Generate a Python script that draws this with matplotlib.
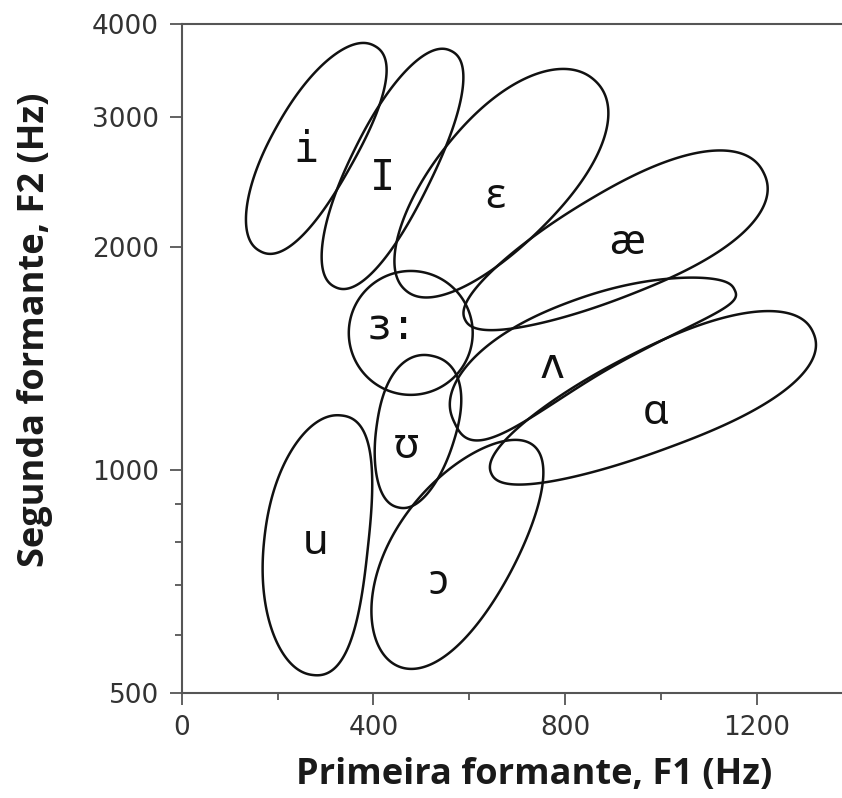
import numpy as np
import matplotlib
matplotlib.use('Agg')
import matplotlib.pyplot as plt
from matplotlib.patches import Polygon
from matplotlib.ticker import NullFormatter
from matplotlib.transforms import ScaledTranslation

# vowel regions in the F1/F2 plane
vowels = ['i', 'I', 'ɛ', 'æ', 'ɜ:', 'ʌ', 'ɑ', 'ʊ', 'u', 'ɔ']
f1_center = [283, 441, 664, 903, 478, 862, 982, 488, 304, 586]
f2_center = [2717, 2550, 2425, 2005, 1532, 1423, 1232, 1127, 792, 771]

# region shape: half length / half width (pt), tilt (deg),
# taper (one end fatter), bend (middle pushed sideways), squareness
half_long = [84.6, 94.7, 101.7, 119.8, 44.6, 111.6, 126.5, 55.9, 94.0, 93.4]
half_wide = [30.2, 29.5, 45.4, 37.4, 44.6, 28.0, 36.0, 28.4, 37.4, 43.2]
tilt = [60.7, 63.8, 47.9, 26.2, 0, 25.5, 23.6, 77.2, 83.8, 58.0]
taper = [0.0, 0.0, 0.1, 0.25, 0.0, -0.35, 0.2, 0.15, 0.0, -0.1]
bend = [0.1, 0.05, 0.05, 0.02, 0.0, 0.55, 0.05, 0.0, 0.22, 0.15]
square = [0.9, 0.9, 0.95, 0.9, 1.0, 0.75, 0.9, 0.9, 0.9, 1.0]

# where each symbol is written
label_f1 = [259, 418, 654, 929, 437, 773, 988, 468, 280, 537]
label_f2 = [2705, 2480, 2338, 2026, 1556, 1382, 1194, 1075, 797, 704]

x_major = [0, 400, 800, 1200]
x_minor = [200, 600, 1000]
y_major = [500, 1000, 2000, 3000, 4000]
y_minor = [600, 700, 800, 900]

mono_labels = {'i', 'I', 'ɜ:', 'ʌ'}


def region_outline(a, b, angle, k, m, p, n=500):
    # closed outline in inches around 0, long axis tilted by angle
    t = np.linspace(0, 2 * np.pi, n, endpoint=False)
    c = np.sign(np.cos(t)) * np.abs(np.cos(t)) ** p
    s = np.sign(np.sin(t)) * np.abs(np.sin(t)) ** p
    u = a * c
    v = b * s * (1 + k * c) + m * b * (1 - c ** 2)
    th = np.radians(angle)
    x = u * np.cos(th) - v * np.sin(th)
    y = u * np.sin(th) + v * np.cos(th)
    return np.column_stack([x, y]) / 72.0


fig = plt.figure(figsize=(8.42, 7.98), dpi=100)
ax = fig.add_axes([0.2158, 0.1312, 0.7842, 0.8387])
ax.set_yscale('log')
ax.set_xlim(0, 1378)
ax.set_ylim(500, 4000)

for i, v in enumerate(vowels):
    tr = fig.dpi_scale_trans + ScaledTranslation(f1_center[i], f2_center[i], ax.transData)
    outline = region_outline(half_long[i], half_wide[i], tilt[i],
                             taper[i], bend[i], square[i])
    ax.add_patch(Polygon(outline, closed=True, fill=False, lw=1.8,
                         ec='#111111', transform=tr))

    if v in mono_labels:
        fam = ['DejaVu Sans Mono']
    else:
        fam = ['Noto Sans', 'DejaVu Sans']
    weight = 'bold' if v == 'ʊ' else 'normal'
    ax.text(label_f1[i], label_f2[i], v, ha='center', va='center',
            fontsize=30, family=fam, fontweight=weight, color='#111111')

ax.set_xticks(x_major)
ax.set_xticks(x_minor, minor=True)
ax.set_yticks(y_major)
ax.set_yticklabels([str(y) for y in y_major])
ax.set_yticks(y_minor, minor=True)
ax.yaxis.set_minor_formatter(NullFormatter())

ax.tick_params(which='both', direction='out', color='#555555', width=1.3,
               labelsize=19, labelcolor='#333333')
ax.tick_params(which='major', length=8.5)
ax.tick_params(which='minor', length=5)
ax.tick_params(axis='x', pad=7)
ax.tick_params(axis='y', pad=8)

for side in ['left', 'bottom', 'top']:
    ax.spines[side].set_color('#555555')
    ax.spines[side].set_linewidth(1.5)
ax.spines['right'].set_visible(False)

ax.set_xlabel('Primeira formante, F1 (Hz)', fontsize=26, fontweight='bold',
              family='Open Sans', color='#1a1a1a', va='center')
ax.xaxis.set_label_coords(0.534, -0.122)
ax.set_ylabel('Segunda formante, F2 (Hz)', fontsize=26, fontweight='bold',
              family='Open Sans', color='#1a1a1a', va='center')
ax.yaxis.set_label_coords(-0.222, 0.543)

fig.savefig('out.png', dpi=100)
